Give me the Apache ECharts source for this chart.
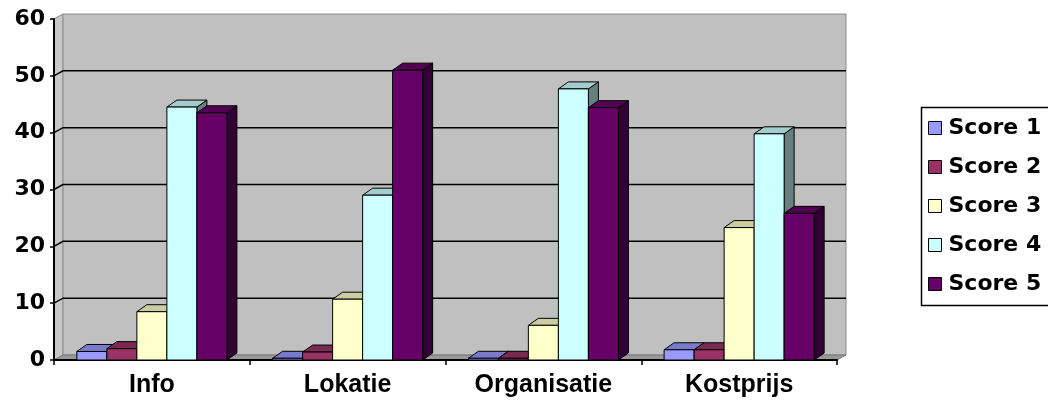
<!DOCTYPE html>
<html>
<head>
<meta charset="utf-8">
<script src="https://cdn.jsdelivr.net/npm/echarts@6/dist/echarts.min.js"></script>
<style>
  html, body { margin: 0; padding: 0; background: #ffffff; }
  #chart { width: 1048px; height: 405px; }
</style>
</head>
<body>
<div id="chart"></div>
<script>
// ---- data ----
const categories = ['Info', 'Lokatie', 'Organisatie', 'Kostprijs'];
const seriesNames = ['Score 1', 'Score 2', 'Score 3', 'Score 4', 'Score 5'];
const score1 = [1.5, 0.3, 0.3, 1.8];
const score2 = [2.0, 1.4, 0.3, 1.8];
const score3 = [8.5, 10.7, 6.1, 23.3];
const score4 = [44.5, 29.0, 47.7, 39.8];
const score5 = [43.5, 51.0, 44.4, 25.8];
const yTicks = [0, 10, 20, 30, 40, 50, 60];

// ---- styling ----
const colors = ['#9999FF', '#993366', '#FFFFCC', '#CCFFFF', '#660066'];
const WALL_DX = 9, WALL_DY = -5;     // back wall offset
const BAR_DX = 10, BAR_DY = -7;      // bar depth offset
const BAR_RATIO = 0.1533;            // bar width / category width

function shade(hex, f) {
  const n = parseInt(hex.slice(1), 16);
  const r = Math.round(((n >> 16) & 255) * f);
  const g = Math.round(((n >> 8) & 255) * f);
  const b = Math.round((n & 255) * f);
  return 'rgb(' + r + ',' + g + ',' + b + ')';
}

function decorRender(params, api) {
  const cs = params.coordSys;
  const x = cs.x, y = cs.y, w = cs.width, h = cs.height;
  const children = [];
  children.push({
    type: 'polygon',
    shape: { points: [[x, y], [x + WALL_DX, y + WALL_DY], [x + WALL_DX, y + h + WALL_DY], [x, y + h]] },
    style: { fill: '#C8C8C8', stroke: '#8a8a8a', lineWidth: 1 }
  });
  children.push({
    type: 'rect',
    shape: { x: x + WALL_DX, y: y + WALL_DY, width: w, height: h },
    style: { fill: '#C0C0C0', stroke: '#8a8a8a', lineWidth: 1 }
  });
  children.push({
    type: 'polygon',
    shape: { points: [[x, y + h], [x + WALL_DX, y + h + WALL_DY], [x + w + WALL_DX, y + h + WALL_DY], [x + w, y + h]] },
    style: { fill: '#999999', stroke: '#7a7a7a', lineWidth: 1 }
  });
  yTicks.forEach(function (v) {
    if (v === 0 || v === yTicks[yTicks.length - 1]) return;
    const py = api.coord([0, v])[1];
    children.push({
      type: 'polyline',
      shape: { points: [[x, py], [x + WALL_DX, py + WALL_DY], [x + w + WALL_DX, py + WALL_DY]] },
      style: { stroke: '#000000', lineWidth: 1.5, fill: null }
    });
  });
  return { type: 'group', children: children };
}

function makeBarRender(idx) {
  const c = colors[idx];
  const topC = shade(c, 0.8);
  const sideC = shade(c, 0.5);
  return function (params, api) {
    const cat = api.value(0);
    const val = api.value(1);
    const top = api.coord([cat, val]);
    const base = api.coord([cat, 0]);
    const bw = api.size([1, 0])[0] * BAR_RATIO;
    const x0 = top[0] - bw * 2.5 + idx * bw;
    const x1 = x0 + bw;
    const yt = top[1], yb = base[1];
    const st = { stroke: '#000000', lineWidth: 1 };
    return {
      type: 'group',
      children: [
        { type: 'polygon', shape: { points: [[x1, yt], [x1 + BAR_DX, yt + BAR_DY], [x1 + BAR_DX, yb + BAR_DY], [x1, yb]] },
          style: Object.assign({ fill: sideC }, st) },
        { type: 'polygon', shape: { points: [[x0, yt], [x0 + BAR_DX, yt + BAR_DY], [x1 + BAR_DX, yt + BAR_DY], [x1, yt]] },
          style: Object.assign({ fill: topC }, st) },
        { type: 'rect', shape: { x: x0, y: yt, width: bw, height: yb - yt },
          style: Object.assign({ fill: c }, st) }
      ]
    };
  };
}

const allScores = [score1, score2, score3, score4, score5];

const series = [{
  type: 'custom',
  name: '__decor',
  silent: true,
  z: 0,
  renderItem: decorRender,
  data: [[0, 0]],
  encode: { x: 0, y: 1 }
}];
allScores.forEach(function (arr, i) {
  series.push({
    type: 'custom',
    name: seriesNames[i],
    z: 3,
    renderItem: makeBarRender(i),
    itemStyle: { color: colors[i], borderColor: '#000', borderWidth: 1 },
    data: arr.map(function (v, k) { return [categories[k], v]; }),
    encode: { x: 0, y: 1 }
  });
});

const chart = echarts.init(document.getElementById('chart'), null, { renderer: 'canvas' });
chart.setOption({
  animation: false,
  backgroundColor: '#ffffff',
  grid: { left: 54, right: 211, top: 19, bottom: 45 },
  graphic: [{
    type: 'rect',
    left: 919, top: 105,
    shape: { width: 200, height: 198 },
    style: { fill: null, stroke: '#000000', lineWidth: 1.5 },
    silent: true
  }],
  legend: {
    orient: 'vertical',
    left: 919,
    top: 105,
    padding: [12, 5, 10, 9],
    itemGap: 17,
    itemWidth: 13,
    itemHeight: 13,
    borderWidth: 0,
    icon: 'rect',
    textStyle: { fontFamily: 'DejaVu Sans', fontWeight: 'bold', fontSize: 22, color: '#000', padding: [0, 0, 0, 2] },
    data: seriesNames.map(function (n, i) {
      return { name: n, itemStyle: { color: colors[i], borderColor: '#000', borderWidth: 1 } };
    })
  },
  xAxis: {
    type: 'category',
    data: categories,
    boundaryGap: true,
    axisLine: { show: true, lineStyle: { color: '#000', width: 2 } },
    axisTick: { show: true, length: 5, lineStyle: { color: '#000', width: 1.5 } },
    axisLabel: { fontFamily: 'Liberation Sans', fontWeight: 'bold', fontSize: 25, color: '#000', margin: 13 },
    splitLine: { show: false }
  },
  yAxis: {
    type: 'value',
    min: yTicks[0],
    max: yTicks[yTicks.length - 1],
    interval: 10,
    axisLine: { show: true, lineStyle: { color: '#000', width: 2 } },
    axisTick: { show: true, length: 4, lineStyle: { color: '#000', width: 1.5 } },
    axisLabel: { fontFamily: 'DejaVu Sans', fontWeight: 'bold', fontSize: 22, color: '#000', margin: 9 },
    splitLine: { show: false }
  },
  series: series
});
</script>
</body>
</html>
